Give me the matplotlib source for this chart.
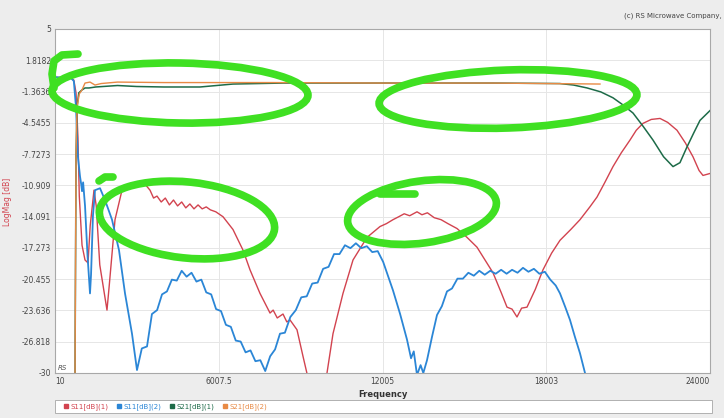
import numpy as np
import matplotlib
matplotlib.use("Agg")
import matplotlib.pyplot as plt
from matplotlib.patches import Ellipse, Rectangle
from matplotlib.lines import Line2D

W, H = 724, 418

# ---- data (frequency, dB) ----
s11_1_f = [10, 600, 700, 780, 850, 900, 1000, 1109, 1219, 1300, 1438, 1520, 1650, 1914, 2000,
           2208, 2464, 2720, 2940, 3100, 3250, 3490, 3620, 3746, 3900, 4050, 4200, 4350, 4500,
           4650, 4800, 4950, 5100, 5250, 5400, 5550, 5700, 5900, 6163, 6529, 6896, 7152, 7518,
           7885, 8000, 8150, 8361, 8500, 8617, 8873, 9093, 9277, 9600, 9972, 10192, 10558,
           10925, 11438, 11913, 12150, 12390, 12600, 12800, 13000, 13269, 13450, 13650, 13900,
           14150, 14400, 14734, 15100, 15466, 16052, 16350, 16565, 16750, 16931, 17100, 17298,
           17600, 17883, 18200, 18506, 18900, 19239, 19600, 19861, 20150, 20447, 20750, 21070,
           21300, 21546, 21850, 22169, 22450, 22791, 23100, 23377, 23600, 23743, 24000]
s11_1_db = [0.1, 0.0, -0.2, -1.5, -6, -12, -17, -18.5, -18.8, -15, -11.4, -13, -19, -23.6, -21,
            -14.4, -11.4, -10.9, -10.7, -10.9, -10.6, -11.4, -12.2, -12.0, -12.6, -12.2, -12.9,
            -12.4, -13.0, -12.6, -13.2, -12.8, -13.3, -12.9, -13.3, -13.1, -13.4, -13.6, -14.1,
            -15.4, -17.5, -19.5, -21.9, -23.9, -23.6, -24.4, -24.0, -24.8, -24.6, -25.6, -28.3,
            -30.5, -33, -30, -26, -21.9, -18.5, -16.2, -15.1, -14.8, -14.4, -14.1, -13.8, -14.0,
            -13.6, -13.9, -13.7, -14.2, -14.4, -14.8, -15.3, -16.2, -17.2, -19.8, -21.8, -23.3,
            -23.5, -24.3, -23.4, -23.3, -21.5, -19.5, -17.8, -16.5, -15.4, -14.4, -13.1, -12.1,
            -10.6, -9.0, -7.6, -6.3, -5.3, -4.6, -4.2, -4.1, -4.5, -5.3, -6.6, -8.0, -9.4, -9.9,
            -9.7]

s11_2_f = [10, 600, 700, 780, 850, 926, 970, 1000, 1040, 1110, 1200, 1292, 1330, 1400, 1475,
           1658, 1841, 2098, 2354, 2574, 2830,
           3013, 3190, 3380, 3560, 3750, 3930, 4110, 4290, 4470, 4650, 4830, 5010, 5190, 5370,
           5550, 5730, 5910, 6090, 6270, 6450, 6630, 6810, 6990, 7170, 7350, 7530, 7710, 7890,
           8070, 8250, 8430, 8630, 8830, 9030, 9230, 9430, 9630, 9830, 10030, 10230, 10430,
           10630, 10830, 11030, 11230, 11430, 11630, 11830, 12030, 12390, 12650, 12902, 13050,
           13150, 13269, 13400, 13500, 13635, 13820, 14001, 14180, 14367, 14550, 14750, 14950,
           15150, 15350, 15550, 15750, 15950, 16150, 16350, 16550, 16750, 16950, 17150, 17350,
           17550, 17750, 17950, 18150, 18350, 18506, 18700, 18872, 19050, 19239, 19422, 19600]
s11_2_db = [0.1, 0.0, -0.3, -3, -8, -10.0, -10.8, -11.5, -10.6, -13, -18, -21.9, -20, -14, -11.4,
            -11.2, -12.4, -14.4, -17.5, -21.9, -26,
            -29.7, -27.5, -27.3, -24.0, -23.6, -22.0, -21.7, -20.5, -20.6, -19.6, -20.2, -19.8,
            -20.7, -20.5, -21.8, -22.0, -23.5, -23.7, -25.1, -25.3, -26.7, -26.8, -27.9, -27.7,
            -28.8, -28.7, -29.8, -28.3, -27.6, -26.0, -25.9, -24.3, -23.6, -22.3, -22.2, -20.9,
            -20.8, -19.4, -19.2, -17.9, -17.9, -17.0, -17.3, -16.8, -17.3, -17.1, -17.7, -17.6,
            -18.7, -21.6, -24.0, -26.6, -28.5, -27.8, -30.2, -29.2, -30.0, -28.7, -26.3, -24.1,
            -23.2, -21.7, -21.4, -20.4, -20.4, -19.8, -20.1, -19.6, -20.0, -19.6, -19.9, -19.5,
            -19.9, -19.5, -19.8, -19.3, -19.7, -19.4, -19.9, -19.7, -20.5, -21.1, -21.9, -23.3,
            -24.6, -26.3, -28.0, -30, -32]

s21_1_f = [10, 700, 742, 760, 780, 816, 880, 999, 1109, 1255, 1500, 2300, 3000, 4000, 5321,
           6529, 8361, 12000, 16000, 18500, 19000, 19500, 20000, 20447, 20800, 21180, 21550,
           21912, 22300, 22645, 22900, 23157, 23400, 23633, 24000]
s21_1_db = [-32, -32, -31, -20, -8, -3, -1.5, -1.2, -1.0, -1.0, -0.9, -0.75, -0.85, -0.9, -0.9,
            -0.6, -0.5, -0.5, -0.5, -0.55, -0.7, -1.0, -1.4, -2.0, -2.7, -3.55, -4.9, -6.3, -8.0,
            -9.0, -8.6, -7.0, -5.6, -4.3, -3.3]

s21_2_f = [10, 700, 742, 760, 780, 816, 900, 999, 1109, 1292, 1475, 1700, 2300, 4000, 8000,
           12000, 16000, 18000, 19971]
s21_2_db = [-32, -32, -31, -20, -8, -3, -1.6, -1.2, -0.5, -0.4, -0.7, -0.55, -0.4, -0.45, -0.45,
            -0.5, -0.5, -0.55, -0.6]

series_names = ["S11[dB](1)", "S11[dB](2)", "S21[dB](1)", "S21[dB](2)"]
series_colors = ["#d2434f", "#2b86d6", "#1d6b48", "#e88a45"]

y_ticks = list(np.linspace(5, -30, 12))
y_labels = ["5", "1.8182", "-1.3636", "-4.5455", "-7.7273", "-10.909", "-14.091",
            "-17.273", "-20.455", "-23.636", "-26.818", "-30"]
x_ticks = [10, 6007.5, 12005, 18003, 24000]
x_labels = ["10", "6007.5", "12005", "18003", "24000"]

fig = plt.figure(figsize=(W / 100, H / 100), dpi=100, facecolor="#ededed")
ax = fig.add_axes([55 / W, (H - 373) / H, 655 / W, 344 / H], facecolor="white")

curves = [(s11_1_f, s11_1_db, 1.0), (s11_2_f, s11_2_db, 1.3),
          (s21_1_f, s21_1_db, 1.1), (s21_2_f, s21_2_db, 1.0)]
for (f, db, lw), name, c in zip(curves, series_names, series_colors):
    ax.plot(f, db, color=c, lw=lw, label=name)

ax.set_xlim(10, 24000)
ax.set_ylim(-30, 5)
ax.set_yticks(y_ticks)
ax.set_yticklabels(y_labels)
ax.set_xticks(x_ticks)
ax.set_xticklabels(x_labels)
xl = ax.get_xticklabels()
xl[0].set_ha("left")
xl[-1].set_ha("right")
ax.tick_params(length=0, labelsize=5.5, colors="#444444", pad=3)
ax.grid(True, color="#e6e6e6", lw=0.7)
for s in ax.spines.values():
    s.set_color("#a8a8a8")
    s.set_linewidth(0.8)

ax.set_xlabel("Frequency", fontsize=6, color="#333333", fontweight="bold", labelpad=3)
fig.text(8 / W, 1 - 202 / H, "LogMag [dB]", rotation=90, color="#d2434f",
         fontsize=5.5, ha="center", va="center")
ax.text(0.004, 0.006, "RS", transform=ax.transAxes, fontsize=5, style="italic",
        color="#555555", ha="left", va="bottom")
fig.text(722 / W, 1 - 16 / H, "(c) RS Microwave Company,", fontsize=5,
         color="#444444", ha="right", va="center")

# legend box at the bottom
fig.patches.append(Rectangle((55 / W, 1 - 413 / H), 657 / W, 13 / H, transform=fig.transFigure,
                             facecolor="white", edgecolor="#b0b0b0", lw=0.7))
handles = [Line2D([], [], ls="none", marker="s", ms=2.5, color=c) for c in series_colors]
leg = fig.legend(handles, series_names, loc="center left", bbox_to_anchor=(60 / W, 1 - 406.5 / H),
                 ncol=4, frameon=False, fontsize=5, handlelength=0.6, handletextpad=0.4,
                 columnspacing=1.2, borderpad=0)
for t, c in zip(leg.get_texts(), series_colors):
    t.set_color(c)

# hand-drawn green marks
green = "#3fe022"
px = fig.dpi_scale_trans


def ell(cx, cy, w, h, ang):
    e = Ellipse((cx / 100, (H - cy) / 100), w / 100, h / 100, angle=ang, transform=px,
                fill=False, edgecolor=green, lw=5.5, clip_on=False)
    fig.patches.append(e)


def stroke(xs, ys):
    fig.lines.append(Line2D([x / 100 for x in xs], [(H - y) / 100 for y in ys], transform=px,
                            color=green, lw=5.5, solid_capstyle="round"))


ell(180, 93, 256, 60, -1)
stroke([78, 62, 54, 52, 54], [54, 55, 61, 74, 88])
ell(508, 99, 258, 58, 2)
ell(187, 220, 176, 76, -6)
stroke([99, 105, 113], [181, 177, 177])
ell(422, 212, 150, 62, 8)
stroke([380, 415], [194, 194])

fig.savefig("out.png", dpi=100, facecolor=fig.get_facecolor())
